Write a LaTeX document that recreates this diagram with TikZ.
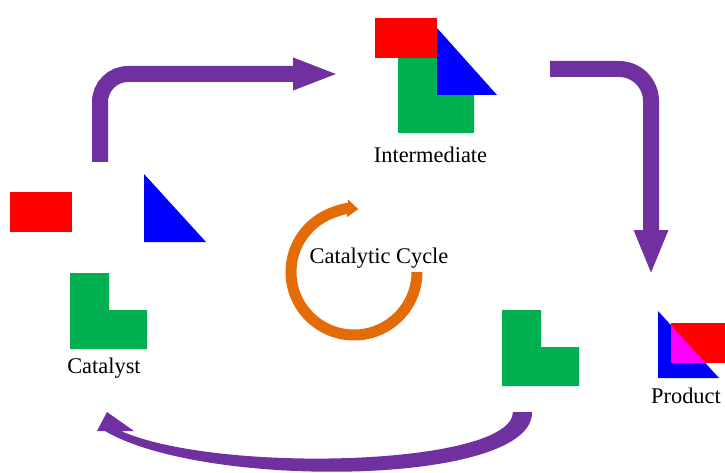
\documentclass[tikz,border=0pt]{standalone}
\usepackage{fontspec}
\setmainfont{Liberation Serif}
\usetikzlibrary{arrows.meta}
\definecolor{cred}{RGB}{255,0,0}
\definecolor{cblue}{RGB}{0,0,255}
\definecolor{cgreen}{RGB}{0,176,80}
\definecolor{cmag}{RGB}{255,0,255}
\definecolor{cpurple}{RGB}{112,48,160}
\definecolor{corange}{RGB}{227,108,9}
\begin{document}
\begin{tikzpicture}[x=1pt,y=-1pt,
  lbl/.style={font=\fontsize{22.4}{26}\selectfont, anchor=base, inner sep=0pt},
  flow/.style={draw=cpurple, line width=16pt},
  cyc/.style={draw=corange, line width=11pt}]
\useasboundingbox (0,0) rectangle (725,473);

% ---- Intermediate group
\fill[cgreen] (398,57) -- (437,57) -- (437,93) -- (474,93) -- (474,133) -- (398,133) -- cycle;
\fill[cblue] (437,28) -- (497,95) -- (437,95) -- cycle;
\fill[cred] (375,18) rectangle (437,58);
\node[lbl] (inter) at (430.5,163) {Intermediate};

% ---- Catalyst group
\fill[cred] (10,192) rectangle (72,232);
\fill[cblue] (144,174) -- (206,242) -- (144,242) -- cycle;
\fill[cgreen] (70,273) -- (109,273) -- (109,310) -- (147,310) -- (147,349) -- (70,349) -- cycle;
\node[lbl] (cat) at (104,373) {Catalyst};

% ---- free green L
\fill[cgreen] (502,310) -- (541,310) -- (541,347) -- (579,347) -- (579,386) -- (502,386) -- cycle;

% ---- Product
\fill[cblue] (658,311) -- (719,378) -- (658,378) -- cycle;
\fill[cred] (671,323) rectangle (726,363);
\begin{scope}
  \clip (658,311) -- (719,378) -- (658,378) -- cycle;
  \fill[cmag] (671,323) rectangle (726,363);
\end{scope}
\node[lbl] (prod) at (686,403) {Product};

% ---- Catalytic cycle
\node[lbl] (cycle) at (379,263) {Catalytic Cycle};
\draw[cyc, -{Triangle[length=11pt,width=17pt]}] (417,272) arc[start angle=0, end angle=274, radius=63];

% ---- purple arrows
\coordinate (a1s) at (100,162);
\coordinate (a1c) at (100,74);
\coordinate (a1e) at (339,74);
\draw[flow, rounded corners=28pt, -{Triangle[length=46pt,width=29pt]}] (a1s) -- (a1c) -- (a1e);

\coordinate (a2s) at (550,69);
\coordinate (a2c) at (651,69);
\coordinate (a2e) at (651,275);
\draw[flow, rounded corners=32pt, -{Triangle[length=45pt,width=31pt]}] (a2s) -- (a2c) -- (a2e);

% bottom tapered curved arrow
\coordinate (a3o) at (532,412);
\coordinate (a3i) at (513,412);
\coordinate (a3tip) at (107,412);
\coordinate (a3w1) at (97,431);
\coordinate (a3w2) at (134,431);
\fill[cpurple] (a3o) .. controls (534,486) and (205,490) .. (105,431)
  -- (a3w1) -- (a3tip) -- (a3w2) -- (121,431)
  .. controls (218,474) and (512,466) .. (a3i) -- cycle;
\end{tikzpicture}
\end{document}
